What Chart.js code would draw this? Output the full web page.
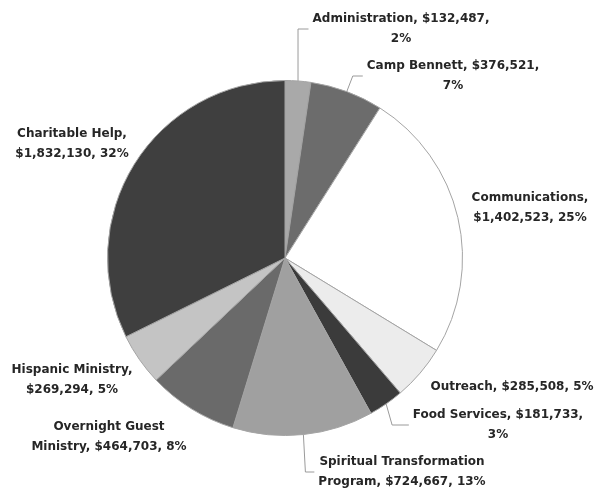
<!DOCTYPE html>
<html>
<head>
<meta charset="utf-8">
<script src="https://cdn.jsdelivr.net/npm/chart.js@4.4.0/dist/chart.umd.min.js"></script>
<style>
  body { margin: 0; background: #fff; }
  #wrap { width: 603px; height: 489px; }
</style>
</head>
<body>
<div id="wrap"><canvas id="chart" width="603" height="489"></canvas></div>
<script>
// data (clockwise from 12 o'clock)
const categories = ['Administration', 'Camp Bennett', 'Communications', 'Outreach', 'Food Services',
  'Spiritual Transformation Program', 'Overnight Guest Ministry', 'Hispanic Ministry', 'Charitable Help'];
const amounts = [132487, 376521, 1402523, 285508, 181733, 724667, 464703, 269294, 1832130];

// styling / layout
const sliceColors = ['#a9a9a9', '#6c6c6c', '#ffffff', '#ececec', '#3b3b3b', '#a0a0a0', '#6a6a6a', '#c4c4c4', '#3f3f3f'];
const labelBreaks = [2, 3, 1, 0, 3, 2, 2, 2, 2];   // words on the first line (0 = single line)
const labelCenters = [[401, 29], [453, 76], [530, 208], [512, 387], [498, 425], [402, 472], [109, 437], [72, 380], [72, 144]];
const leaderShift = [0, 6, null, null, 6, 2, null, null, null]; // null = no leader line

const total = amounts.reduce((a, b) => a + b, 0);

function labelLines(i) {
  const pct = Math.round(amounts[i] / total * 100);
  const full = categories[i] + ', $' + amounts[i].toLocaleString('en-US') + ', ' + pct + '%';
  const words = full.split(' ');
  if (!labelBreaks[i]) return [full];
  return [words.slice(0, labelBreaks[i]).join(' '), words.slice(labelBreaks[i]).join(' ')];
}

const labelPlugin = {
  id: 'sliceLabels',
  afterDraw(chart) {
    const ctx = chart.ctx;
    const arcs = chart.getDatasetMeta(0).data;
    ctx.save();
    ctx.font = 'bold 12px "DejaVu Sans", sans-serif';
    ctx.fillStyle = '#262626';
    ctx.textAlign = 'center';
    ctx.textBaseline = 'middle';
    const lh = 19.5;
    arcs.forEach((arc, i) => {
      const lines = labelLines(i);
      const [cx, cy] = labelCenters[i];
      const y0 = cy - (lines.length - 1) * lh / 2;
      lines.forEach((t, k) => ctx.fillText(t, cx, y0 + k * lh));

      if (leaderShift[i] !== null) {
        const mid = (arc.startAngle + arc.endAngle) / 2;
        const px = arc.x + Math.cos(mid) * arc.outerRadius;
        const py = arc.y + Math.sin(mid) * arc.outerRadius;
        const w = Math.max(...lines.map(t => ctx.measureText(t).width));
        ctx.strokeStyle = '#9a9a9a';
        ctx.lineWidth = 1;
        ctx.beginPath();
        ctx.moveTo(px, py);
        ctx.lineTo(px + leaderShift[i], cy);
        ctx.lineTo(cx - w / 2 - 4, cy);
        ctx.stroke();
      }
    });
    ctx.restore();
  }
};

new Chart(document.getElementById('chart'), {
  type: 'pie',
  data: {
    labels: categories,
    datasets: [{
      data: amounts,
      backgroundColor: sliceColors,
      borderColor: '#a4a4a4',
      borderWidth: 1
    }]
  },
  options: {
    responsive: false,
    animation: false,
    layout: { padding: { top: 80, bottom: 53, left: 107, right: 140 } },
    plugins: {
      legend: { display: false },
      tooltip: { enabled: false }
    }
  },
  plugins: [labelPlugin]
});
</script>
</body>
</html>
